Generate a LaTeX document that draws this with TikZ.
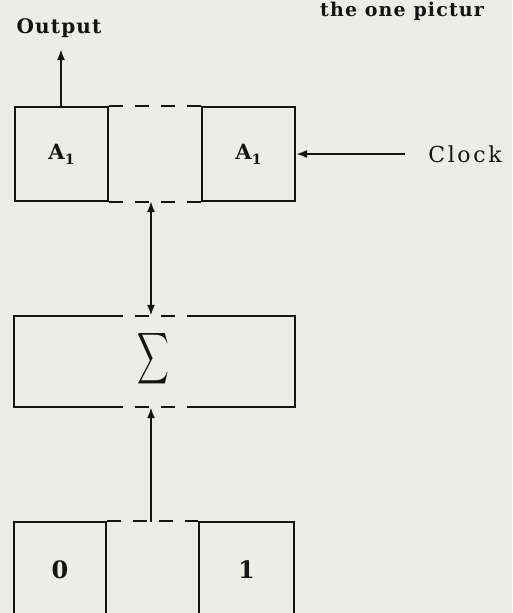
\documentclass[tikz,border=0pt]{standalone}
\usepackage{fontspec}
\setmainfont{DejaVu Serif}
\newfontfamily\spaced[LetterSpace=6]{DejaVu Serif}
\newfontfamily\wide[LetterSpace=12]{DejaVu Serif}
\usetikzlibrary{arrows.meta,calc}
\definecolor{paper}{RGB}{236,236,232}
\definecolor{ink}{RGB}{20,20,20}
\begin{document}
\begin{tikzpicture}[x=1pt,y=-1pt,
  box/.style={draw=ink,line width=2pt,inner sep=0pt,minimum width=93pt,minimum height=94pt,
    font=\fontsize{21}{24}\selectfont\bfseries,text=ink},
  ln/.style={draw=ink,line width=2pt},
  dsh/.style={draw=ink,line width=2pt,dash pattern=on 14pt off 12pt},
  arr/.style={draw=ink,line width=2pt,-{Latex[length=11pt,width=8pt]}},
  darr/.style={draw=ink,line width=2pt,{Latex[length=11pt,width=8pt]}-{Latex[length=11pt,width=8pt]}},
  lbl/.style={font=\spaced\fontsize{20}{24}\selectfont\bfseries,inner sep=0pt,text=ink}]
\useasboundingbox (0,0) rectangle (512,613);
\clip (0,0) rectangle (512,613);
\fill[paper] (0,0) rectangle (512,613);

% top boxes
\node[box] (a1) at (61.5,154) {A\raisebox{-5pt}{\fontsize{14}{14}\selectfont 1}};
\node[box] (a2) at (248.5,154) {A\raisebox{-5pt}{\fontsize{14}{14}\selectfont 1}};
\draw[dsh] (a1.north east) -- (a2.north west);
\draw[dsh] (a1.south east) -- (a2.south west);

% sum box
\node[inner sep=0pt,minimum width=281pt,minimum height=91pt,text=ink] (sig) at (154.5,361.5) {};
\node[inner sep=0pt,text=ink] (sigma) at (153.5,359) {\scalebox{2.2}[3.6]{$\displaystyle\sum$}};
\draw[ln] (a1.east|-sig.north) -- (sig.north west) -- (sig.south west) -- (a1.east|-sig.south);
\draw[ln] (a2.west|-sig.north) -- (sig.north east) -- (sig.south east) -- (a2.west|-sig.south);
\draw[dsh] (a1.east|-sig.north) -- (a2.west|-sig.north);
\draw[dsh] (a1.east|-sig.south) -- (a2.west|-sig.south);

% bottom boxes
\node[box,minimum width=92pt,minimum height=96pt,font=\fontsize{24}{28}\selectfont\bfseries] (b0) at (60,570) {0};
\node[box,minimum width=95pt,minimum height=96pt,font=\fontsize{24}{28}\selectfont\bfseries] (b1) at (246.5,570) {1};
\draw[dsh] (b0.north east) -- (b1.north west);

% connectors
\coordinate (m1) at (151,201);
\draw[darr] (m1) -- (m1|-sig.north);
\coordinate (m2) at (151,522);
\draw[arr] (m2) -- (m2|-sig.south);

% output
\node[lbl] (out) at (59,28) {Output};
\coordinate (otip) at (61,49);
\draw[arr] (otip|-a1.north) -- (otip);

% clock
\node[lbl,font=\wide\fontsize{22}{26}\selectfont] (clk) at (465,154) {Clock};
\coordinate (ctail) at (405,154);
\draw[arr] (ctail) -- (a2.east);

% cut-off text
\node[lbl,font=\spaced\fontsize{19}{22}\selectfont\bfseries,anchor=west] (cut) at (320,11) {the one pictur};
\end{tikzpicture}
\end{document}
